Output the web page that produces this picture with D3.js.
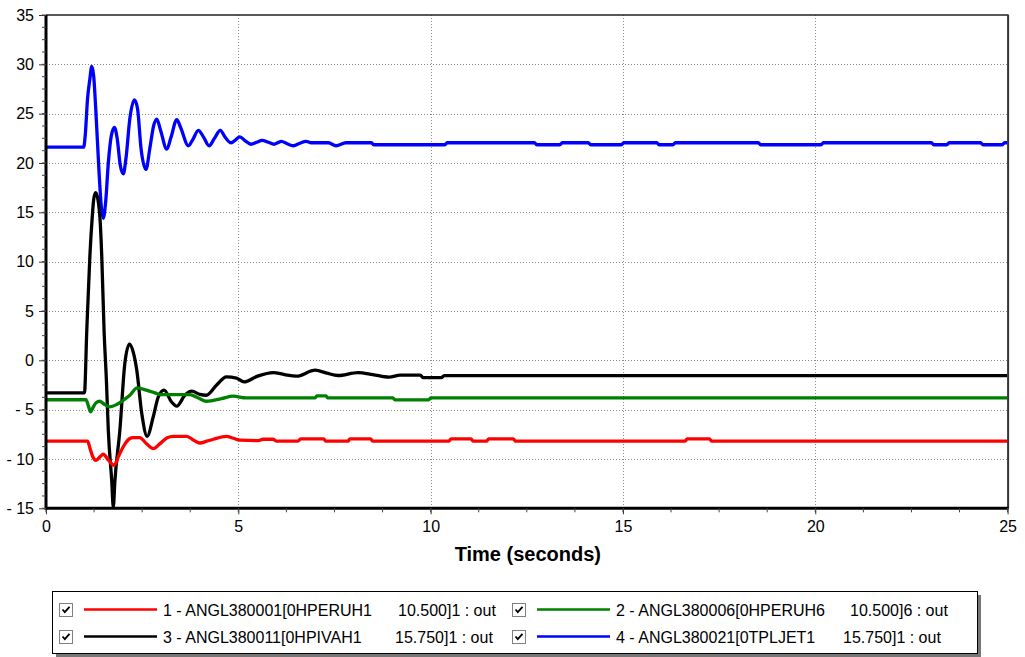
<!DOCTYPE html>
<html>
<head>
<meta charset="utf-8">
<script src="https://cdn.jsdelivr.net/npm/d3@7"></script>
<style>
  body { margin: 0; background: #fff; }
  svg { display: block; font-family: "Liberation Sans", Arial, sans-serif; }
</style>
</head>
<body>
<svg id="chart" width="1025" height="657"></svg>
<script>
// ---- data -------------------------------------------------------------
const xTickValues = [0, 5, 10, 15, 20, 25];
const yTickValues = [35, 30, 25, 20, 15, 10, 5, 0, -5, -10, -15];
const xAxisTitle = "Time (seconds)";

// [time (s), angle] samples per channel
const ch1 = [[0,-8.2],[1.08,-8.2],[1.15,-9.0],[1.22,-9.8],[1.3,-10.13],[1.4,-9.8],[1.49,-9.52],
  [1.62,-10.1],[1.77,-10.64],[1.9,-9.6],[2.05,-8.5],[2.17,-7.95],[2.27,-7.83],[2.44,-7.83],
  [2.6,-8.4],[2.79,-8.95],[2.95,-8.5],[3.15,-7.85],[3.31,-7.7],[3.66,-7.7],[3.84,-8.1],[4.0,-8.38],
  [4.18,-8.2],[4.35,-8.0],[4.69,-7.7],[4.87,-7.9],[5.04,-8.1],[5.5,-8.15],[5.65,-8.0],[5.9,-8.0],
  [6.0,-8.2],[6.55,-8.2],[6.62,-7.97],[7.22,-7.97],[7.28,-8.2],[7.85,-8.2],[7.9,-7.97],[8.44,-7.97],
  [8.5,-8.2],[10.47,-8.2],[10.53,-7.97],[11.05,-7.97],[11.11,-8.2],[11.45,-8.2],[11.51,-7.97],
  [12.15,-7.97],[12.21,-8.2],[16.61,-8.2],[16.67,-7.97],[17.25,-7.97],[17.31,-8.2],[25,-8.2]];

const ch2 = [[0,-4.0],[1.04,-4.0],[1.1,-4.6],[1.16,-5.23],[1.22,-4.8],[1.3,-4.3],[1.4,-4.15],
  [1.5,-4.4],[1.66,-4.72],[1.85,-4.45],[2.01,-4.05],[2.18,-3.55],[2.37,-2.8],[2.61,-3.03],
  [2.83,-3.3],[2.96,-3.47],[3.74,-3.47],[3.95,-3.8],[4.17,-4.15],[4.56,-3.88],[4.87,-3.64],
  [5.2,-3.81],[7.0,-3.81],[7.04,-3.6],[7.28,-3.6],[7.32,-3.81],[9.02,-3.81],[9.07,-4.02],
  [9.95,-4.02],[10.0,-3.81],[25,-3.81]];

const ch3 = [[0,-3.3],[1.0,-3.3],[1.06,3.0],[1.14,10.5],[1.2,14.4],[1.24,16.3],[1.29,17.0],
  [1.35,16.3],[1.41,14.0],[1.45,10.5],[1.51,3.0],[1.57,-2.0],[1.62,-7.1],[1.71,-12.3],[1.75,-14.9],
  [1.79,-12.3],[1.92,-7.1],[2.05,-0.3],[2.17,1.65],[2.27,0.8],[2.36,-1.0],[2.49,-5.4],[2.63,-7.7],
  [2.79,-5.7],[2.92,-3.7],[3.07,-3.03],[3.26,-4.2],[3.4,-4.65],[3.61,-3.54],[3.79,-3.13],[4.0,-3.46],
  [4.17,-3.54],[4.43,-2.53],[4.69,-1.68],[4.95,-1.8],[5.15,-2.19],[5.5,-1.6],[5.91,-1.24],[6.2,-1.45],
  [6.51,-1.61],[7.0,-1.0],[7.3,-1.3],[7.59,-1.54],[8.11,-1.24],[8.5,-1.45],[8.92,-1.71],[9.21,-1.5],
  [9.73,-1.5],[9.8,-1.75],[10.28,-1.75],[10.35,-1.55],[25,-1.55]];

const ch4 = [[0,21.6],[0.98,21.6],[1.02,22.8],[1.08,26.5],[1.14,28.5],[1.19,29.8],[1.24,28.8],
  [1.3,25],[1.38,19],[1.44,15.5],[1.49,14.4],[1.55,16],[1.62,20],[1.7,22.8],[1.78,23.6],[1.85,22.5],
  [1.93,19.8],[2.01,18.9],[2.08,20.5],[2.18,24.5],[2.3,26.4],[2.38,25.5],[2.47,21.5],[2.6,19.35],
  [2.7,21.5],[2.8,23.8],[2.88,24.45],[2.98,23.3],[3.14,21.4],[3.25,22.6],[3.4,24.4],[3.5,23.6],
  [3.7,21.75],[3.82,22.4],[3.96,23.3],[4.1,22.6],[4.24,21.75],[4.38,22.5],[4.53,23.3],[4.66,22.6],
  [4.81,22.05],[4.93,22.35],[5.04,22.65],[5.18,22.25],[5.33,21.9],[5.48,22.1],[5.62,22.3],
  [5.78,22.1],[5.93,21.9],[6.02,22.05],[6.12,22.2],[6.27,21.95],[6.43,21.75],[6.6,22.0],[6.76,22.2],
  [6.9,22.05],[7.34,22.05],[7.54,21.75],[7.8,22.05],[8.46,22.05],[8.52,21.85],[10.37,21.85],
  [10.43,22.05],[12.7,22.05],[12.76,21.85],[13.36,21.85],[13.42,22.05],[14.1,22.05],[14.16,21.85],
  [14.96,21.85],[15.02,22.05],[15.88,22.05],[15.94,21.85],[16.3,21.85],[16.36,22.05],[18.52,22.05],
  [18.58,21.85],[20.15,21.85],[20.21,22.05],[23.02,22.05],[23.08,21.85],[23.42,21.85],[23.48,22.05],
  [24.3,22.05],[24.36,21.85],[24.86,21.85],[24.92,22.05],[25,22.05]];

const legendNames  = ["1 - ANGL380001[0HPERUH1", "2 - ANGL380006[0HPERUH6",
                      "3 - ANGL380011[0HPIVAH1", "4 - ANGL380021[0TPLJET1"];
const legendValues = ["10.500]1 : out", "10.500]6 : out", "15.750]1 : out", "15.750]1 : out"];

// ---- styling ------------------------------------------------------------
const channels = [ch1, ch2, ch3, ch4];
const colors = ["#ff0000", "#008000", "#000000", "#0000ff"];
const valueColumnX = [339, 338, 336, 331];

const svg = d3.select("#chart");
svg.append("rect").attr("width", 1025).attr("height", 657).attr("fill", "#fff");

const plot = { left: 46, right: 1007.6, top: 15, bottom: 508.3 };
const x = d3.scaleLinear().domain([0, 25]).range([plot.left, plot.right]);
const y = d3.scaleLinear().domain([-15, 35]).range([plot.bottom, plot.top]);

// grid (dotted)
const grid = svg.append("g").attr("stroke", "#8c8c8c").attr("stroke-width", 1)
  .attr("stroke-dasharray", "1,2").attr("shape-rendering", "crispEdges");
grid.selectAll(".gx").data(xTickValues.filter(v => v > 0 && v < 25)).join("line")
  .attr("x1", d => Math.round(x(d)) + 0.5).attr("x2", d => Math.round(x(d)) + 0.5)
  .attr("y1", plot.top).attr("y2", plot.bottom);
grid.selectAll(".gy").data(yTickValues.filter(v => v > -15 && v < 35)).join("line")
  .attr("y1", d => Math.round(y(d)) + 0.5).attr("y2", d => Math.round(y(d)) + 0.5)
  .attr("x1", plot.left).attr("x2", plot.right);

// series
svg.append("defs").append("clipPath").attr("id", "plotclip").append("rect")
  .attr("x", plot.left).attr("y", plot.top - 2)
  .attr("width", plot.right - plot.left).attr("height", plot.bottom - plot.top + 2);

const line = d3.line().x(d => x(d[0])).y(d => y(d[1])).curve(d3.curveMonotoneX);
const series = svg.append("g").attr("clip-path", "url(#plotclip)");
[3, 2, 1, 0].forEach(i => {
  series.append("path").datum(channels[i])
    .attr("fill", "none").attr("stroke", colors[i]).attr("stroke-width", 3.3)
    .attr("stroke-linejoin", "round").attr("d", line);
});

// frame: thin top/right, heavy axes on left/bottom
svg.append("line").attr("x1", plot.left).attr("x2", plot.right + 1)
  .attr("y1", plot.top).attr("y2", plot.top).attr("stroke", "#222").attr("stroke-width", 1.5);
svg.append("line").attr("x1", plot.right + 0.5).attr("x2", plot.right + 0.5)
  .attr("y1", plot.top).attr("y2", plot.bottom).attr("stroke", "#333").attr("stroke-width", 2);

// axes
const minorX = d3.range(0, 25.01, 1.25);
const minorY = d3.range(-15, 35.01, 1.25);

const xAxis = svg.append("g").attr("transform", `translate(0,${plot.bottom})`)
  .call(d3.axisBottom(x).tickValues(xTickValues).tickSize(6).tickPadding(6).tickFormat(d3.format("d")));
const yAxis = svg.append("g").attr("transform", `translate(${plot.left},0)`)
  .call(d3.axisLeft(y).tickValues(yTickValues).tickSize(7).tickPadding(5)
    .tickFormat(d => d < 0 ? "- " + Math.abs(d) : String(d)));

[xAxis, yAxis].forEach(g => {
  g.select(".domain").attr("stroke", "#000").attr("stroke-width", 3);
  g.selectAll(".tick line").attr("stroke", "#333").attr("stroke-width", 1);
  g.selectAll(".tick text").attr("fill", "#000").attr("font-size", 16)
    .attr("font-family", "'Liberation Sans', Arial, sans-serif");
});
xAxis.select(".domain").attr("d", `M${plot.left},0H${plot.right + 1}`);
yAxis.select(".domain").attr("d", `M0,${plot.top}V${plot.bottom + 1.5}`);

xAxis.selectAll(".minor").data(minorX).join("line").attr("class", "minor")
  .attr("x1", d => x(d)).attr("x2", d => x(d)).attr("y1", 0).attr("y2", 4)
  .attr("stroke", "#444").attr("stroke-width", 1);
yAxis.selectAll(".minor").data(minorY).join("line").attr("class", "minor")
  .attr("y1", d => y(d)).attr("y2", d => y(d)).attr("x1", 0).attr("x2", -4)
  .attr("stroke", "#444").attr("stroke-width", 1);

svg.append("text").attr("x", (plot.left + plot.right) / 2 + 1).attr("y", 561)
  .attr("text-anchor", "middle").attr("font-size", 20).attr("font-weight", "bold")
  .text(xAxisTitle);

// legend
const lg = svg.append("g");
lg.append("rect").attr("x", 56).attr("y", 595).attr("width", 925).attr("height", 63).attr("fill", "#777");
lg.append("rect").attr("x", 52.5).attr("y", 591.5).attr("width", 925).attr("height", 62)
  .attr("fill", "#fff").attr("stroke", "#000").attr("stroke-width", 1);

const legendOrder = [0, 1, 2, 3];
const item = lg.selectAll(".item").data(legendOrder).join("g").attr("class", "item")
  .attr("transform", i => `translate(${59 + (i % 2) * 453},${603 + Math.floor(i / 2) * 27})`);

item.append("rect").attr("x", 0.5).attr("y", 0.5).attr("width", 13).attr("height", 13)
  .attr("fill", "#fff").attr("stroke", "#808080");
item.append("path").attr("d", "M3.5,6.5 L5.8,9.2 L10.5,3.8").attr("fill", "none")
  .attr("stroke", "#000").attr("stroke-width", 1.8);
item.append("line").attr("x1", 25).attr("x2", 98).attr("y1", 6.5).attr("y2", 6.5)
  .attr("stroke", i => colors[i]).attr("stroke-width", 2.5);
const lt = item.append("text").attr("y", 12.5).attr("font-size", 16).attr("fill", "#000");
lt.append("tspan").attr("x", 104).text(i => legendNames[i]);
lt.append("tspan").attr("x", i => valueColumnX[i]).text(i => legendValues[i]);
</script>
</body>
</html>
